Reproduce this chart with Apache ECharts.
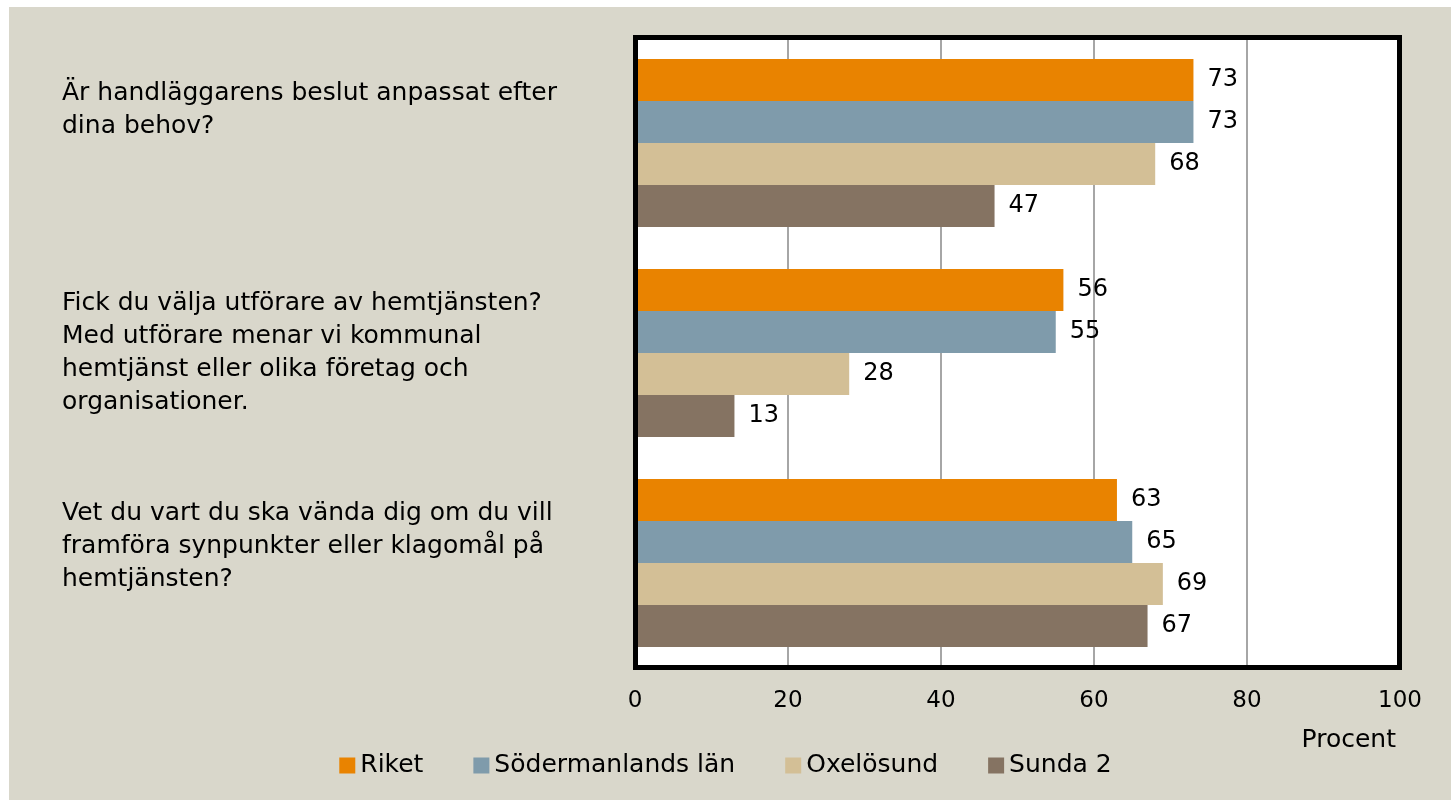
<!DOCTYPE html>
<html><head><meta charset="utf-8">
<script src="https://cdn.jsdelivr.net/npm/echarts@6/dist/echarts.min.js"></script>
<style>html,body{margin:0;padding:0;background:#fff}#c{width:1451px;height:800px}</style>
</head><body><div id="c"></div>
<script>
const categories = [
  "Är handläggarens beslut anpassat efter\ndina behov?",
  "Fick du välja utförare av hemtjänsten?\nMed utförare menar vi kommunal\nhemtjänst eller olika företag och\norganisationer.",
  "Vet du vart du ska vända dig om du vill\nframföra synpunkter eller klagomål på\nhemtjänsten?"
];
const seriesNames = ["Riket", "Södermanlands län", "Oxelösund", "Sunda 2"];
const riket = [73, 56, 63];
const sodermanland = [73, 55, 65];
const oxelosund = [68, 28, 69];
const sunda2 = [47, 13, 67];
const xTicks = [0, 20, 40, 60, 80, 100];
const colors = ["#E98300", "#7F9BAB", "#D3BF96", "#857362"];
const values = [riket, sodermanland, oxelosund, sunda2];

const FONT = "DejaVu Sans";
function pad4(s) {
  const lines = s.split("\n");
  while (lines.length < 4) lines.push(" ");
  return lines.join("\n");
}

const chart = echarts.init(document.getElementById('c'), null, {renderer: 'canvas'});
chart.setOption({
  animation: false,
  backgroundColor: '#fff',
  textStyle: {fontFamily: FONT},
  graphic: [
    {type: 'rect', left: 9, top: 7, shape: {width: 1442, height: 793}, style: {fill: '#D9D7CB'}, z: -10, silent: true},
    {type: 'rect', x: 635.5, y: 37.5, shape: {width: 764, height: 630}, style: {fill: null, stroke: '#000', lineWidth: 5}, z: 100, silent: true}
  ],
  grid: {left: 635, right: 51, top: 38, bottom: 132, show: true, backgroundColor: '#fff', borderWidth: 0, containLabel: false},
  legend: {
    bottom: 17, left: 'center', itemWidth: 16, itemHeight: 16, itemGap: 50,
    icon: 'rect',
    textStyle: {fontFamily: FONT, fontSize: 25, color: '#000'},
    data: seriesNames
  },
  xAxis: {
    type: 'value', min: 0, max: 100, interval: 20,
    axisLine: {show: false}, axisTick: {show: false},
    splitLine: {show: true, lineStyle: {color: '#888', width: 1.5}},
    axisLabel: {fontFamily: FONT, fontSize: 23, color: '#000', margin: 22,
      formatter: v => xTicks.includes(v) ? String(v) : ''},
    name: 'Procent', nameLocation: 'end', nameGap: -4,
    nameTextStyle: {fontFamily: FONT, fontSize: 25, color: '#000', align: 'right', verticalAlign: 'top', padding: [60, 0, 0, 0]}
  },
  yAxis: {
    type: 'category', inverse: true, data: categories,
    axisLine: {show: false}, axisTick: {show: false},
    axisLabel: {fontFamily: FONT, fontSize: 25, color: '#000', align: 'left', margin: 573, lineHeight: 33,
      formatter: v => pad4(v)}
  },
  series: values.map((vals, i) => ({
    name: seriesNames[i], type: 'bar', data: vals,
    barGap: '0%', barCategoryGap: '20%',
    itemStyle: {color: colors[i]},
    label: {show: true, position: 'right', distance: 14, fontFamily: FONT, fontSize: 24, color: '#000'}
  }))
});
</script></body></html>
